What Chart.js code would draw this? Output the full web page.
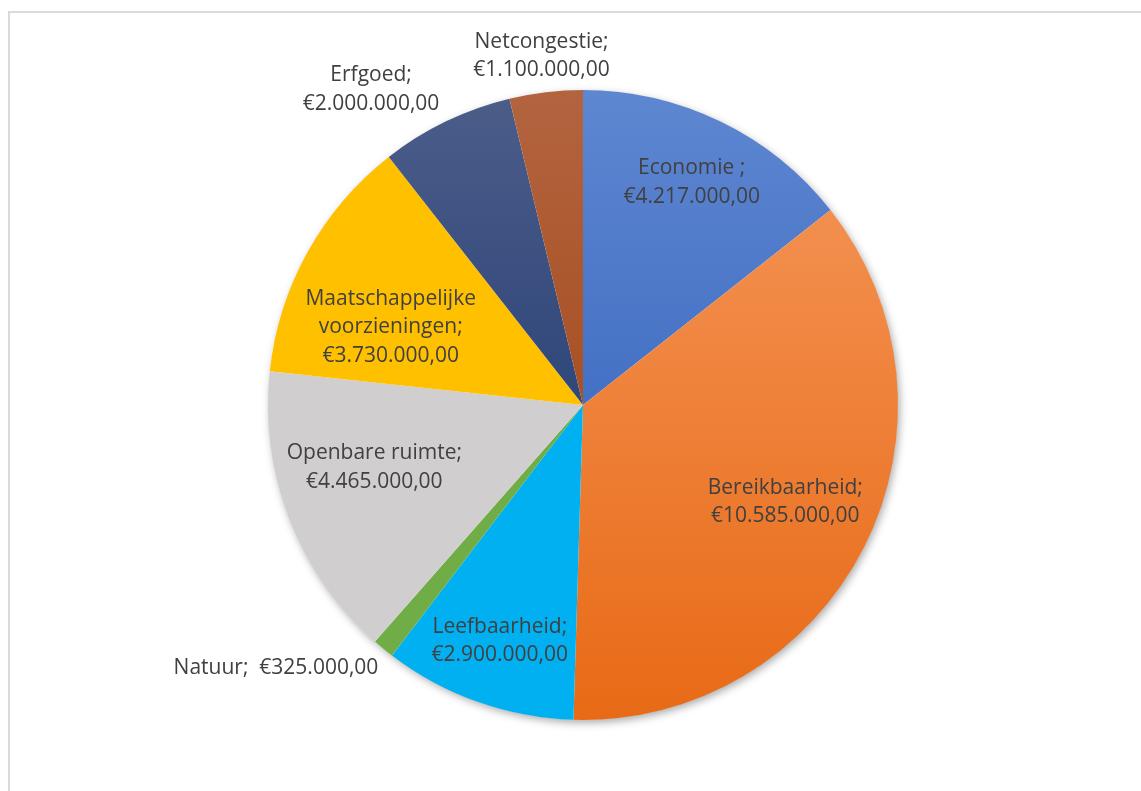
<!DOCTYPE html>
<html>
<head>
<meta charset="utf-8">
<script src="https://cdn.jsdelivr.net/npm/chart.js@4/dist/chart.umd.min.js"></script>
<style>
  html, body { margin: 0; padding: 0; background: #fff; overflow: hidden; }
  #frame { position: absolute; left: 8px; top: 11px; width: 1300px; height: 1000px; border: 2px solid #d9d9d9; box-sizing: border-box; }
  #wrap { position: absolute; left: 0; top: 0; width: 1141px; height: 791px; }
</style>
</head>
<body>
<div id="frame"></div>
<div id="wrap"><canvas id="c" width="1141" height="791"></canvas></div>
<script>
// ---- data ----
const categories = ['Economie ', 'Bereikbaarheid', 'Leefbaarheid', 'Natuur', 'Openbare ruimte', 'Maatschappelijke voorzieningen', 'Erfgoed', 'Netcongestie'];
const budgets = [4217000, 10585000, 2900000, 325000, 4465000, 3730000, 2000000, 1100000];

// ---- style ----
const gradTop    = ['#5e87d1', '#f5985c', '#00b0f0', '#70ad47', '#d0cece', '#ffc000', '#4c5d89', '#b3643f'];
const gradBottom = ['#2a5ab8', '#e86a16', '#00b0f0', '#70ad47', '#d0cece', '#ffc000', '#12306b', '#9c3c08'];
const labelRadius = [0.79, 0.71, 0.79, 1.0, 0.69, 0.66, 1.21, 1.12];
const labelAngleAdj = [0, -1.5, 0, 0, 5, -6.7, -8, 0];
const labelOneLine = [false, false, false, true, false, false, false, false];
const labelWrapName = [false, false, false, false, false, true, false, false];
const FONT = '21px "Open Sans", "Noto Sans", sans-serif';
const LINE_H = 28.5;
const TEXT_DY = 1.5;

function fmtEuro(v) {
  const s = Math.round(v).toString();
  let out = '';
  for (let i = 0; i < s.length; i++) {
    if (i > 0 && (s.length - i) % 3 === 0) out += '.';
    out += s[i];
  }
  return '\u20ac' + out + ',00';
}

function labelLines(i) {
  const val = fmtEuro(budgets[i]);
  if (labelOneLine[i]) return [categories[i] + ';  ' + val];
  const name = labelWrapName[i] ? categories[i].split(' ') : [categories[i]];
  name[name.length - 1] += ';';
  return name.concat([val]);
}

const shadowPlugin = {
  id: 'pieShadow',
  beforeDatasetsDraw(chart) {
    const arc = chart.getDatasetMeta(0).data[0];
    if (!arc) return;
    const ctx = chart.ctx;
    ctx.save();
    ctx.shadowColor = 'rgba(0,0,0,0.35)';
    ctx.shadowBlur = 8;
    ctx.shadowOffsetX = 2;
    ctx.shadowOffsetY = 3;
    ctx.fillStyle = '#ffffff';
    ctx.beginPath();
    ctx.arc(arc.x, arc.y, arc.outerRadius - 0.5, 0, Math.PI * 2);
    ctx.fill();
    ctx.restore();
  }
};

const labelPlugin = {
  id: 'sliceLabels',
  afterDatasetsDraw(chart) {
    const ctx = chart.ctx;
    const meta = chart.getDatasetMeta(0);
    ctx.save();
    ctx.font = FONT;
    ctx.fillStyle = '#404040';
    ctx.textBaseline = 'middle';
    meta.data.forEach((arc, i) => {
      const mid = (arc.startAngle + arc.endAngle) / 2 + labelAngleAdj[i] * Math.PI / 180;
      let x = arc.x + Math.cos(mid) * arc.outerRadius * labelRadius[i];
      let y = arc.y + Math.sin(mid) * arc.outerRadius * labelRadius[i] + TEXT_DY;
      const lines = labelLines(i);
      if (labelOneLine[i]) {
        ctx.textAlign = 'right';
        x -= 5; y += 18;
      } else {
        ctx.textAlign = 'center';
      }
      const y0 = y - (lines.length - 1) * LINE_H / 2;
      lines.forEach((ln, k) => ctx.fillText(ln, x, y0 + k * LINE_H));
    });
    ctx.restore();
  }
};

new Chart(document.getElementById('c'), {
  type: 'pie',
  data: {
    labels: categories,
    datasets: [{
      data: budgets,
      borderWidth: 0,
      backgroundColor(context) {
        const area = context.chart.chartArea;
        const i = context.dataIndex;
        if (!area) return gradTop[i];
        const g = context.chart.ctx.createLinearGradient(0, area.top, 0, area.bottom);
        g.addColorStop(0, gradTop[i]);
        g.addColorStop(1, gradBottom[i]);
        return g;
      }
    }]
  },
  options: {
    responsive: false,
    animation: false,
    layout: { padding: { left: 268, right: 243, top: 90, bottom: 71 } },
    plugins: { legend: { display: false }, tooltip: { enabled: false } }
  },
  plugins: [shadowPlugin, labelPlugin]
});
</script>
</body>
</html>
